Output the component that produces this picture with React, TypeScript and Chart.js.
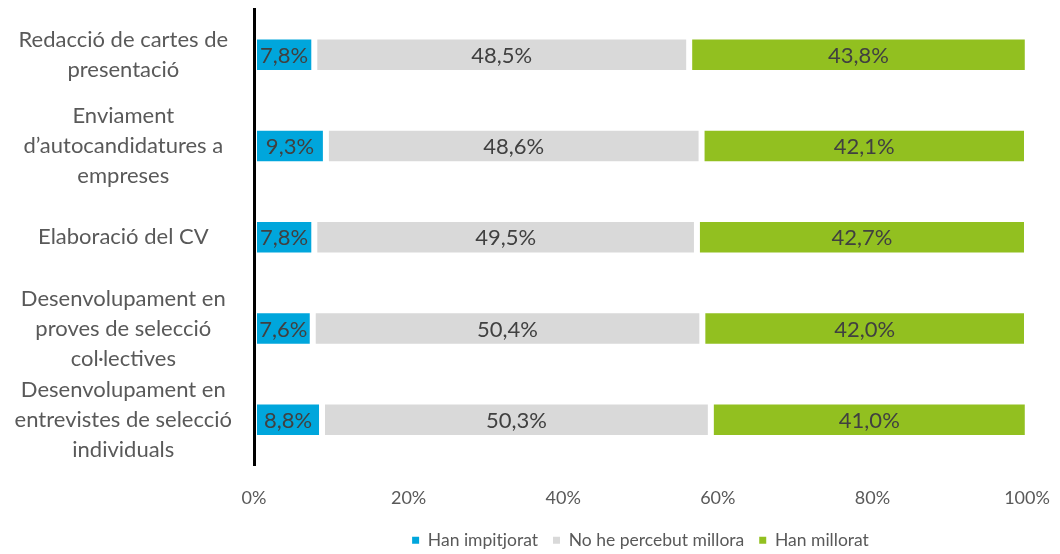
import React, { useEffect, useRef } from "react";
import { Chart, registerables } from "chart.js";

Chart.register(...registerables);

const categories: string[][] = [
  ["Redacció de cartes de", "presentació"],
  ["Enviament", "d\u2019autocandidatures a", "empreses"],
  ["Elaboració del CV"],
  ["Desenvolupament en", "proves de selecció", "col·lectives"],
  ["Desenvolupament en", "entrevistes de selecció", "individuals"],
];
const seriesNames = ["Han impitjorat", "No he percebut millora", "Han millorat"];
const worse = [7.8, 9.3, 7.8, 7.6, 8.8];
const noChange = [48.5, 48.6, 49.5, 50.4, 50.3];
const better = [43.8, 42.1, 42.7, 42.0, 41.0];
const xTicks = [0, 20, 40, 60, 80, 100];

const colors = ["#00A6DC", "#D9D9D9", "#92C020"];
const FONT = "Lato";

const fmt = (v: number) => v.toFixed(1).replace(".", ",") + "%";

const dataLabels = {
  id: "dataLabels",
  afterDatasetsDraw(chart: any) {
    const ctx = chart.ctx;
    ctx.save();
    ctx.font = `22px ${FONT}`;
    ctx.fillStyle = "#404040";
    ctx.textAlign = "center";
    ctx.textBaseline = "middle";
    chart.data.datasets.forEach((ds: any, i: number) => {
      const meta = chart.getDatasetMeta(i);
      meta.data.forEach((el: any, j: number) => {
        const x = (el.x + el.base) / 2;
        ctx.fillText(fmt(ds.data[j]), x, el.y + 1);
      });
    });
    ctx.restore();
  },
};

const legendShift = {
  id: "legendShift",
  afterLayout(chart: any) {
    const lg = chart.legend;
    if (!lg) return;
    const w = lg.right - lg.left;
    const ca = chart.chartArea;
    const mid = (ca.left + ca.right) / 2;
    lg.left = mid - w / 2;
    lg.right = mid + w / 2;
    lg.top += 5;
    lg.bottom += 5;
  },
};

export default function App() {
  const ref = useRef<HTMLCanvasElement>(null);
  useEffect(() => {
    if (!ref.current) return;
    const chart = new Chart(ref.current, {
      type: "bar",
      data: {
        labels: categories,
        datasets: [worse, noChange, better].map((d, i) => ({
          label: seriesNames[i],
          data: d,
          backgroundColor: colors[i],
          borderColor: "#ffffff",
          borderWidth: 3,
          borderSkipped: false,
          categoryPercentage: 1,
          barPercentage: 0.4,
        })),
      },
      options: {
        indexAxis: "y",
        animation: false,
        responsive: false,
        maintainAspectRatio: false,
        layout: { padding: { top: 9, right: 33, left: 0, bottom: 0 } },
        scales: {
          x: {
            stacked: true,
            min: 0,
            max: 100,
            afterBuildTicks: (s: any) => {
              s.ticks = xTicks.map((v) => ({ value: v }));
            },
            afterFit: (s: any) => {
              s.height = 46;
              s.paddingLeft = 0;
              s.paddingRight = 0;
            },
            grid: { display: false, drawTicks: false },
            border: { display: false },
            ticks: {
              autoSkip: false,
              maxRotation: 0,
              padding: 22,
              color: "#595959",
              font: { family: FONT, size: 18 },
              callback: (v: any) => v + "%",
            },
          },
          y: {
            stacked: true,
            afterFit: (s: any) => {
              s.width = 254;
              s.paddingTop = 0;
              s.paddingBottom = 0;
            },
            grid: { display: false, drawTicks: false },
            border: { display: true, color: "#000000", width: 3, z: 1 },
            ticks: {
              autoSkip: false,
              padding: 22,
              crossAlign: "center",
              color: "#595959",
              font: { family: FONT, size: 22, lineHeight: 1.36 },
            },
          },
        },
        plugins: {
          tooltip: { enabled: false },
          legend: {
            position: "bottom",
            align: "center",
            labels: {
              boxWidth: 7,
              boxHeight: 7,
              padding: 15,
              color: "#595959",
              font: { family: FONT, size: 17.5 },
              generateLabels: (c: any) =>
                c.data.datasets.map((ds: any, i: number) => ({
                  text: ds.label,
                  fillStyle: colors[i],
                  strokeStyle: colors[i],
                  lineWidth: 0,
                  hidden: false,
                  datasetIndex: i,
                  fontColor: "#595959",
                })),
            },
          },
        },
      },
      plugins: [dataLabels, legendShift],
    });
    return () => chart.destroy();
  }, []);
  return (
    <div style={{ position: "absolute", left: 0, top: 0, width: 1060, height: 554, background: "#fff" }}>
      <canvas ref={ref} width={1060} height={554} style={{ width: 1060, height: 554 }} />
    </div>
  );
}
